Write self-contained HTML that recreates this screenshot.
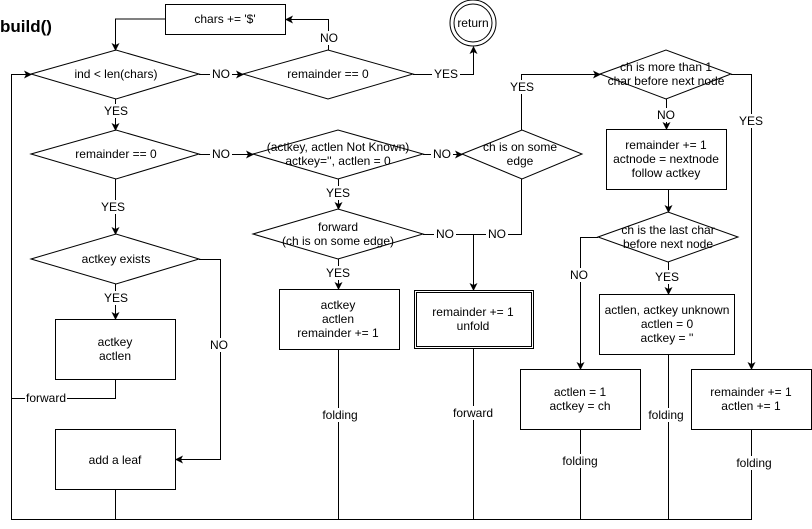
<!DOCTYPE html>
<html><head><meta charset="utf-8"><style>
html,body{margin:0;padding:0;background:#fff;width:812px;height:529px;overflow:hidden}
svg{display:block}
text{font-family:"Liberation Sans",Arial,sans-serif;font-size:12px;fill:#000}
</style></head><body>
<svg width="812" height="529" viewBox="0 0 812 529" xmlns="http://www.w3.org/2000/svg">
<defs><marker id="a" markerWidth="8" markerHeight="8" refX="7" refY="4" orient="auto" markerUnits="userSpaceOnUse"><path d="M0,0 L8,4 L0,8 L2,4 z" fill="#000"/></marker></defs>
<g fill="none" stroke="#000" stroke-width="1">
<!-- shapes -->
<rect x="165.5" y="4.5" width="120" height="30" fill="#fff"/>
<circle cx="473" cy="23" r="23"/><circle cx="473" cy="23" r="19"/>
<polygon points="31,74 116,50 199,74 116,99"/>
<polygon points="243,74 328,50 413,74 328,99"/>
<polygon points="31,154 116,130 199,154 116,179"/>
<polygon points="253,154 338,130 423,154 338,179"/>
<polygon points="462,154 522,130 582,154 522,179"/>
<polygon points="600,74 666,50 731,74 666,99"/>
<rect x="606.5" y="129.5" width="120" height="60"/>
<polygon points="598,237 668,212 738,237 668,262"/>
<rect x="599.5" y="294.5" width="135" height="60"/>
<rect x="520.5" y="369.5" width="120" height="60"/>
<rect x="691.5" y="369.5" width="120" height="60"/>
<polygon points="253,234 338,209 423,234 338,259"/>
<rect x="279.5" y="289.5" width="120" height="60"/>
<rect x="414.5" y="290.5" width="119" height="58"/>
<rect x="416.5" y="292.5" width="115" height="54"/>
<polygon points="31,259 116,234 199,259 116,284"/>
<rect x="55.5" y="319.5" width="120" height="60"/>
<rect x="55.5" y="429.5" width="120" height="60"/>
<!-- connectors -->
<polyline points="165,19 115.5,19 115.5,50" marker-end="url(#a)"/>
<polyline points="11.5,519 11.5,74.5 31,74.5" marker-end="url(#a)"/>
<line x1="199" y1="74.5" x2="243" y2="74.5" marker-end="url(#a)"/>
<polyline points="328.5,50 328.5,19.5 286,19.5" marker-end="url(#a)"/>
<polyline points="413,74.5 473.5,74.5 473.5,47" marker-end="url(#a)"/>
<line x1="115.5" y1="99" x2="115.5" y2="130" marker-end="url(#a)"/>
<line x1="199" y1="154.5" x2="253" y2="154.5" marker-end="url(#a)"/>
<line x1="423" y1="154.5" x2="462" y2="154.5" marker-end="url(#a)"/>
<polyline points="521.5,130 521.5,74.5 600,74.5" marker-end="url(#a)"/>
<polyline points="731,74.5 751.5,74.5 751.5,369" marker-end="url(#a)"/>
<line x1="666.5" y1="99" x2="666.5" y2="129" marker-end="url(#a)"/>
<line x1="668.5" y1="190" x2="668.5" y2="212" marker-end="url(#a)"/>
<polyline points="598,237.5 580.5,237.5 580.5,369" marker-end="url(#a)"/>
<line x1="668.5" y1="262" x2="668.5" y2="294" marker-end="url(#a)"/>
<line x1="668.5" y1="355" x2="668.5" y2="519"/>
<line x1="580.5" y1="430" x2="580.5" y2="519"/>
<line x1="751.5" y1="430" x2="751.5" y2="519"/>
<polyline points="521.5,179 521.5,234.5 423,234.5"/>
<line x1="473.5" y1="234.5" x2="473.5" y2="290" marker-end="url(#a)"/>
<line x1="473.5" y1="349" x2="473.5" y2="519"/>
<line x1="338.5" y1="179" x2="338.5" y2="209" marker-end="url(#a)"/>
<line x1="338.5" y1="259" x2="338.5" y2="289" marker-end="url(#a)"/>
<line x1="338.5" y1="350" x2="338.5" y2="519"/>
<line x1="115.5" y1="179" x2="115.5" y2="234" marker-end="url(#a)"/>
<polyline points="199,259.5 220.5,259.5 220.5,459.5 176,459.5" marker-end="url(#a)"/>
<line x1="115.5" y1="284" x2="115.5" y2="319" marker-end="url(#a)"/>
<polyline points="115.5,380 115.5,398.5 11.5,398.5"/>
<line x1="115.5" y1="490" x2="115.5" y2="519"/>
<line x1="11" y1="519.5" x2="752" y2="519.5"/>
</g>
<g text-anchor="middle">
<text x="0" y="32" text-anchor="start" style="font-size:17px;font-weight:bold">build()</text>
<text x="225" y="23">chars += '$'</text>
<text x="473" y="27">return</text>
<text x="116" y="78">ind &lt; len(chars)</text>
<text x="328" y="78">remainder == 0</text>
<text x="116" y="158">remainder == 0</text>
<text x="338" y="151">(actkey, actlen Not Known)</text>
<text x="338" y="165">actkey='', actlen = 0</text>
<text x="520" y="151">ch is on some</text>
<text x="520" y="165">edge</text>
<text x="666" y="71">ch is more than 1</text>
<text x="666" y="85">char before next node</text>
<text x="666" y="149">remainder += 1</text>
<text x="666" y="163">actnode = nextnode</text>
<text x="666" y="177">follow actkey</text>
<text x="668" y="234">ch is the last char</text>
<text x="668" y="248">before next node</text>
<text x="667" y="314">actlen, actkey unknown</text>
<text x="667" y="328">actlen = 0</text>
<text x="667" y="342">actkey = ''</text>
<text x="580" y="396">actlen = 1</text>
<text x="580" y="410">actkey = ch</text>
<text x="751" y="396">remainder += 1</text>
<text x="751" y="410">actlen += 1</text>
<text x="338" y="231">forward</text>
<text x="338" y="245">(ch is on some edge)</text>
<text x="338" y="309">actkey</text>
<text x="338" y="323">actlen</text>
<text x="338" y="337">remainder += 1</text>
<text x="473" y="316">remainder += 1</text>
<text x="473" y="330">unfold</text>
<text x="116" y="263">actkey exists</text>
<text x="115" y="346">actkey</text>
<text x="115" y="360">actlen</text>
<text x="115" y="464">add a leaf</text>
</g>
<g text-anchor="middle">
<rect x="210" y="67" width="22" height="14" fill="#fff"/><text x="221" y="78">NO</text>
<rect x="319" y="31" width="20" height="14" fill="#fff"/><text x="329" y="42">NO</text>
<rect x="432" y="67" width="28" height="14" fill="#fff"/><text x="446" y="78">YES</text>
<rect x="102" y="104" width="28" height="14" fill="#fff"/><text x="116" y="115">YES</text>
<rect x="210" y="147" width="22" height="14" fill="#fff"/><text x="221" y="158">NO</text>
<rect x="431" y="147" width="22" height="14" fill="#fff"/><text x="442" y="158">NO</text>
<rect x="508" y="80" width="28" height="14" fill="#fff"/><text x="522" y="91">YES</text>
<rect x="737" y="114" width="28" height="14" fill="#fff"/><text x="751" y="125">YES</text>
<rect x="655" y="108" width="22" height="14" fill="#fff"/><text x="666" y="119">NO</text>
<rect x="569" y="268" width="22" height="14" fill="#fff"/><text x="579" y="279">NO</text>
<rect x="654" y="270" width="28" height="14" fill="#fff"/><text x="667" y="281">YES</text>
<rect x="324" y="186" width="28" height="14" fill="#fff"/><text x="338" y="197">YES</text>
<rect x="324" y="266" width="28" height="14" fill="#fff"/><text x="338" y="277">YES</text>
<rect x="434" y="227" width="22" height="14" fill="#fff"/><text x="445" y="238">NO</text>
<rect x="486" y="227" width="22" height="14" fill="#fff"/><text x="497" y="238">NO</text>
<rect x="99" y="200" width="28" height="14" fill="#fff"/><text x="113" y="211">YES</text>
<rect x="102" y="291" width="28" height="14" fill="#fff"/><text x="116" y="302">YES</text>
<rect x="208" y="338" width="22" height="14" fill="#fff"/><text x="219" y="349">NO</text>
<rect x="25" y="391" width="42" height="14" fill="#fff"/><text x="46" y="402">forward</text>
<rect x="450" y="406" width="46" height="14" fill="#fff"/><text x="473" y="417">forward</text>
<rect x="320" y="408" width="40" height="14" fill="#fff"/><text x="340" y="419">folding</text>
<rect x="648" y="408" width="40" height="14" fill="#fff"/><text x="666" y="419">folding</text>
<rect x="560" y="454" width="40" height="14" fill="#fff"/><text x="580" y="465">folding</text>
<rect x="733" y="456" width="40" height="14" fill="#fff"/><text x="754" y="467">folding</text>
</g>
</svg>
</body></html>
